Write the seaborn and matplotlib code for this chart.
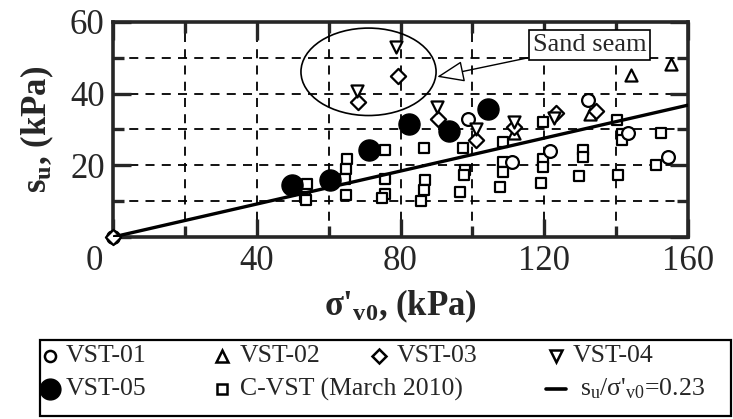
import numpy as np
import pandas as pd
import matplotlib
matplotlib.use("Agg")
import matplotlib.pyplot as plt
from matplotlib.lines import Line2D
from matplotlib.patches import Ellipse, Rectangle
from matplotlib.transforms import ScaledTranslation
import seaborn as sns

# ---------------- data ----------------
vst01_x = [0, 98.8, 110.9, 121.6, 132.1, 143.4, 154.3]
vst01_y = [0, 32.8, 20.9, 23.9, 38.3, 29.0, 22.2]

vst02_x = [111.6, 132.6, 144.2, 155.2]
vst02_y = [29.0, 34.3, 45.2, 48.3]

vst03_x = [0, 68.1, 79.2, 90.5, 101.1, 111.7, 123.3, 134.3]
vst03_y = [0, 37.6, 45.0, 33.0, 27.2, 30.8, 34.6, 35.3]

vst04_x = [67.9, 78.8, 90.1, 101.1, 111.7, 122.6]
vst04_y = [40.8, 53.0, 36.4, 30.0, 32.0, 33.2]

vst05_x = [49.7, 60.5, 71.3, 82.4, 93.5, 104.4]
vst05_y = [14.4, 15.8, 24.2, 31.6, 29.7, 35.7]

cvst_x = [54.1, 53.3, 53.6,
          65.0, 64.7, 64.5, 64.7,
          75.8, 75.6, 75.6, 74.8,
          86.6, 86.8, 86.4, 85.7,
          97.4, 97.9, 97.7, 96.5,
          108.5, 108.5, 108.5, 107.6,
          119.6, 119.6, 119.6, 119.1,
          130.7, 130.7, 129.7,
          140.2, 141.5, 141.7, 140.6,
          152.5, 151.2]
cvst_y = [14.9, 11.3, 10.3,
          21.9, 19.1, 16.3, 11.7,
          24.2, 16.3, 11.9, 10.8,
          24.9, 15.8, 13.1, 10.0,
          24.9, 18.6, 17.3, 12.6,
          26.5, 20.9, 18.1, 14.0,
          32.0, 21.9, 19.5, 15.1,
          24.3, 22.4, 16.9,
          32.7, 28.8, 27.1, 17.2,
          29.0, 20.0]

ratio = 0.23
fit_x = [0, 160]

x_ticks = [0, 40, 80, 120, 160]
x_labels = ["0", "40", "80", "120", "160"]
y_ticks = [0, 20, 40, 60]
y_labels = ["", "20", "40", "60"]

# ---------------- style ----------------
sns.set_style("ticks")
plt.rcParams["font.family"] = ["Liberation Serif", "DejaVu Serif"]
plt.rcParams["mathtext.fontset"] = "custom"
plt.rcParams["mathtext.rm"] = "Liberation Serif"
plt.rcParams["mathtext.it"] = "Liberation Serif:italic"
plt.rcParams["mathtext.bf"] = "Liberation Serif:bold"

fig = plt.figure(figsize=(7.33, 4.19), dpi=100)
ax = fig.add_axes([113 / 733, 1 - 237 / 419, (688 - 113) / 733, (237 - 22) / 419])

frames = {
    "VST-01": (vst01_x, vst01_y),
    "VST-02": (vst02_x, vst02_y),
    "VST-03": (vst03_x, vst03_y),
    "VST-04": (vst04_x, vst04_y),
    "VST-05": (vst05_x, vst05_y),
    "C-VST": (cvst_x, cvst_y),
}
df = pd.concat([pd.DataFrame({"x": v[0], "y": v[1], "s": k}) for k, v in frames.items()],
               ignore_index=True)

styles = {
    "C-VST": dict(marker="s", s=55, facecolor="white", edgecolor="black", linewidth=1.6),
    "VST-01": dict(marker="o", s=85, facecolor="white", edgecolor="black", linewidth=1.6),
    "VST-02": dict(marker="^", s=75, facecolor="white", edgecolor="black", linewidth=1.6),
    "VST-03": dict(marker="D", s=60, facecolor="white", edgecolor="black", linewidth=1.6),
    "VST-04": dict(marker="v", s=75, facecolor="white", edgecolor="black", linewidth=1.6),
    "VST-05": dict(marker="o", s=230, facecolor="black", edgecolor="black", linewidth=1.0),
}
for name, st in styles.items():
    sub = df[df["s"] == name]
    sns.scatterplot(data=sub, x="x", y="y", ax=ax, legend=False, zorder=4,
                    marker=st["marker"], s=st["s"], color=st["facecolor"],
                    edgecolor=st["edgecolor"], linewidth=st["linewidth"], clip_on=False)

fit_df = pd.DataFrame({"x": fit_x, "y": [ratio * v for v in fit_x]})
sns.lineplot(data=fit_df, x="x", y="y", ax=ax, color="black", linewidth=2.4, zorder=5)

ax.set_xlim(0, 160)
ax.set_ylim(0, 60)
ax.set_xticks(x_ticks)
ax.set_xticklabels(x_labels)
ax.set_yticks(y_ticks)
ax.set_yticklabels(y_labels)
ax.set_xticks([20, 60, 100, 140], minor=True)
ax.set_yticks([10, 30, 50], minor=True)
ax.tick_params(which="major", direction="in", length=13, width=2.4,
               top=True, right=True, labelsize=25, pad=6)
ax.tick_params(which="minor", direction="in", length=8, width=2.4, top=True, right=True)
ax.grid(which="both", color="black", linestyle=(0, (5, 4)), linewidth=1.3)
for sp in ax.spines.values():
    sp.set_linewidth(2.6)

# shared corner "0" sits left of the origin
zero = ax.get_xticklabels()[0]
zero.set_transform(zero.get_transform() + ScaledTranslation(-0.19, 0, fig.dpi_scale_trans))

ax.set_xlabel(r"σ'$\mathbf{_{v0}}$, (kPa)", fontsize=25, fontweight="bold", labelpad=7)
ax.set_ylabel(r"$\mathbf{s_u}$, (kPa)", fontsize=25, fontweight="bold", labelpad=10)

# Sand seam annotation
ax.add_patch(Ellipse((71.1, 46.1), 37.6, 24.4, fill=False, edgecolor="black",
                     linewidth=1.2, zorder=3))
ax.annotate("Sand seam", xy=(90.2, 44.7), xytext=(132.6, 53.6), fontsize=19,
            ha="center", va="center", zorder=6,
            bbox=dict(boxstyle="square,pad=0.15", fc="white", ec="black", lw=1.2),
            arrowprops=dict(arrowstyle="-|>,head_length=0.9,head_width=0.35",
                            fc="white", ec="black", lw=1.0, shrinkA=0, shrinkB=0))

# ---------------- legend (manual) ----------------
W, H = 733.0, 419.0
fig.add_artist(Rectangle((40 / W, 1 - 416 / H), (731 - 40) / W, (416 - 340) / H,
                         transform=fig.transFigure, fill=False, edgecolor="black", lw=1.6))
row1 = 1 - 356 / H
row2 = 1 - 389 / H
entries = [
    (50, row1, dict(marker="o", ms=8, mfc="white", mec="black", mew=1.8), "VST-01", 66),
    (222, row1, dict(marker="^", ms=8, mfc="white", mec="black", mew=1.8), "VST-02", 240),
    (379, row1, dict(marker="D", ms=7, mfc="white", mec="black", mew=1.8), "VST-03", 397),
    (556, row1, dict(marker="v", ms=8, mfc="white", mec="black", mew=1.8), "VST-04", 573),
    (50, row2, dict(marker="o", ms=15, mfc="black", mec="black", mew=1.0), "VST-05", 66),
    (222, row2, dict(marker="s", ms=7, mfc="white", mec="black", mew=1.8), "C-VST (March 2010)", 240),
]
for mx, my, kw, label, tx in entries:
    fig.add_artist(Line2D([mx / W], [my], transform=fig.transFigure, linestyle="none", **kw))
    fig.text(tx / W, my, label, fontsize=18.5, va="center", ha="left")
fig.add_artist(Line2D([546 / W, 566 / W], [row2, row2], transform=fig.transFigure,
                      color="black", lw=2.6))
fig.text(580 / W, row2, r"s$_\mathrm{u}$/σ'$_\mathrm{v0}$=0.23", fontsize=18.5,
         va="center", ha="left")

fig.savefig("out.png", dpi=100)
